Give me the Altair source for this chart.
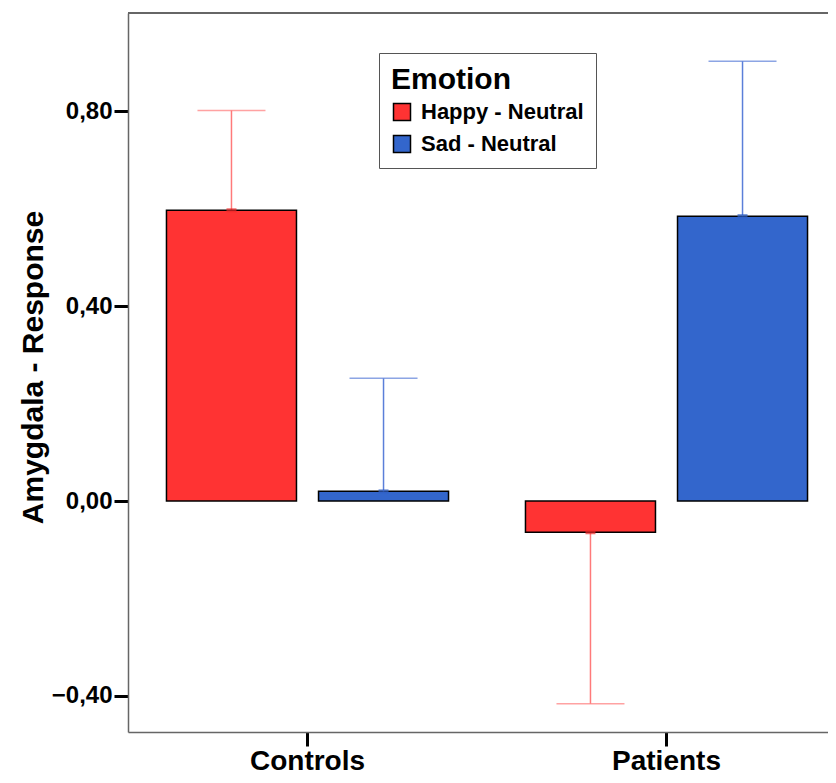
import altair as alt
import pandas as pd

groups = ["Controls", "Controls", "Patients", "Patients"]
emotions = ["Happy - Neutral", "Sad - Neutral", "Happy - Neutral", "Sad - Neutral"]
means = [0.597, 0.020, -0.064, 0.585]
err_ends = [0.802, 0.252, -0.416, 0.903]

df = pd.DataFrame({"group": groups, "emotion": emotions, "mean": means, "err": err_ends})

FONT = "Liberation Sans"
emo_domain = ["Happy - Neutral", "Sad - Neutral"]
bar_colors = ["#ff3333", "#3366cc"]

x_enc = alt.X("group:N", scale=alt.Scale(range=[0, 718], paddingInner=0, paddingOuter=0),
              axis=alt.Axis(title=None, labelAngle=0, labelFontSize=28, labelFont=FONT,
                            labelFontWeight="bold", labelColor="black", labelPadding=23,
                            labelBaseline="alphabetic",
                            tickSize=14, tickWidth=3, tickColor="black",
                            domainColor="#666666", domainWidth=1.5, grid=False))
xo_enc = alt.XOffset("emotion:N", sort=emo_domain,
                     scale=alt.Scale(paddingInner=0.145, paddingOuter=0.253))
y_scale = alt.Scale(domain=[-0.474, 1.002], nice=False, zero=False)
y_axis = alt.Axis(title="Amygdala - Response", values=[-0.4, 0, 0.4, 0.8],
                  labelExpr="replace(format(datum.value, '.2f'), '.', ',')",
                  labelFontSize=24, labelFont=FONT, labelFontWeight="bold", labelColor="black",
                  labelPadding=2, tickSize=14, tickWidth=3, tickColor="black",
                  domainColor="#666666", domainWidth=1.5, grid=False,
                  titleFontSize=30, titleFont=FONT, titleFontWeight="bold", titleColor="black",
                  titleX=-86, titleY=354, titleAngle=-90, titleAlign="center",
                  titleBaseline="alphabetic")

base = alt.Chart(df)

layers = []
for emo, col in zip(emo_domain, ["#ff7a7a", "#5b7fd9"]):
    sub = base.transform_filter(alt.datum.emotion == emo)
    layers.append(sub.mark_rule(color=col, strokeWidth=1.5).encode(
        x=x_enc, xOffset=xo_enc, y=alt.Y("mean:Q", scale=y_scale, axis=y_axis), y2="err:Q"))
    layers.append(sub.mark_tick(color=col, size=68, thickness=1.5).encode(
        x=x_enc, xOffset=xo_enc, y=alt.Y("err:Q", scale=y_scale, axis=y_axis)))

bars = base.mark_bar(stroke="black", strokeWidth=1.5).encode(
    x=x_enc, xOffset=xo_enc,
    y=alt.Y("mean:Q", scale=y_scale, axis=y_axis), y2=alt.datum(0),
    color=alt.Color("emotion:N", scale=alt.Scale(domain=emo_domain, range=bar_colors),
                    legend=alt.Legend(title="Emotion", orient="none", legendX=251, legendY=40,
                                      symbolType="square", symbolSize=289,
                                      symbolStrokeColor="black", symbolStrokeWidth=1.5,
                                      labelFontSize=22, labelFont=FONT, labelFontWeight="bold",
                                      labelColor="black", labelLimit=400,
                                      titleFontSize=30, titleFont=FONT,
                                      titleFontWeight="bold", titleColor="black",
                                      padding=12, rowPadding=8, titlePadding=6,
                                      strokeColor="#555555", fillColor="white",
                                      labelOffset=8)))
layers.insert(2, bars)

markers = []
for emo, col in zip(emo_domain, ["#ee2a2a", "#2f5fc4"]):
    sub = base.transform_filter(alt.datum.emotion == emo)
    markers.append(sub.mark_tick(color=col, size=10, thickness=4).encode(
        x=x_enc, xOffset=xo_enc, y=alt.Y("mean:Q", scale=y_scale, axis=y_axis)))

top_border = alt.Chart(df).mark_rule(color="#666666", strokeWidth=1.5).encode(
    x=alt.value(0), x2=alt.value(718), y=alt.value(0))

chart = alt.layer(*layers, *markers, top_border).properties(
    width=700, height=719,
    autosize=alt.AutoSizeParams(type="none"),
    padding={"left": 120, "top": 5, "right": 0, "bottom": 43},
).configure_view(stroke="transparent")

chart.save("out.html", embed_options={"renderer": "svg", "actions": False})
